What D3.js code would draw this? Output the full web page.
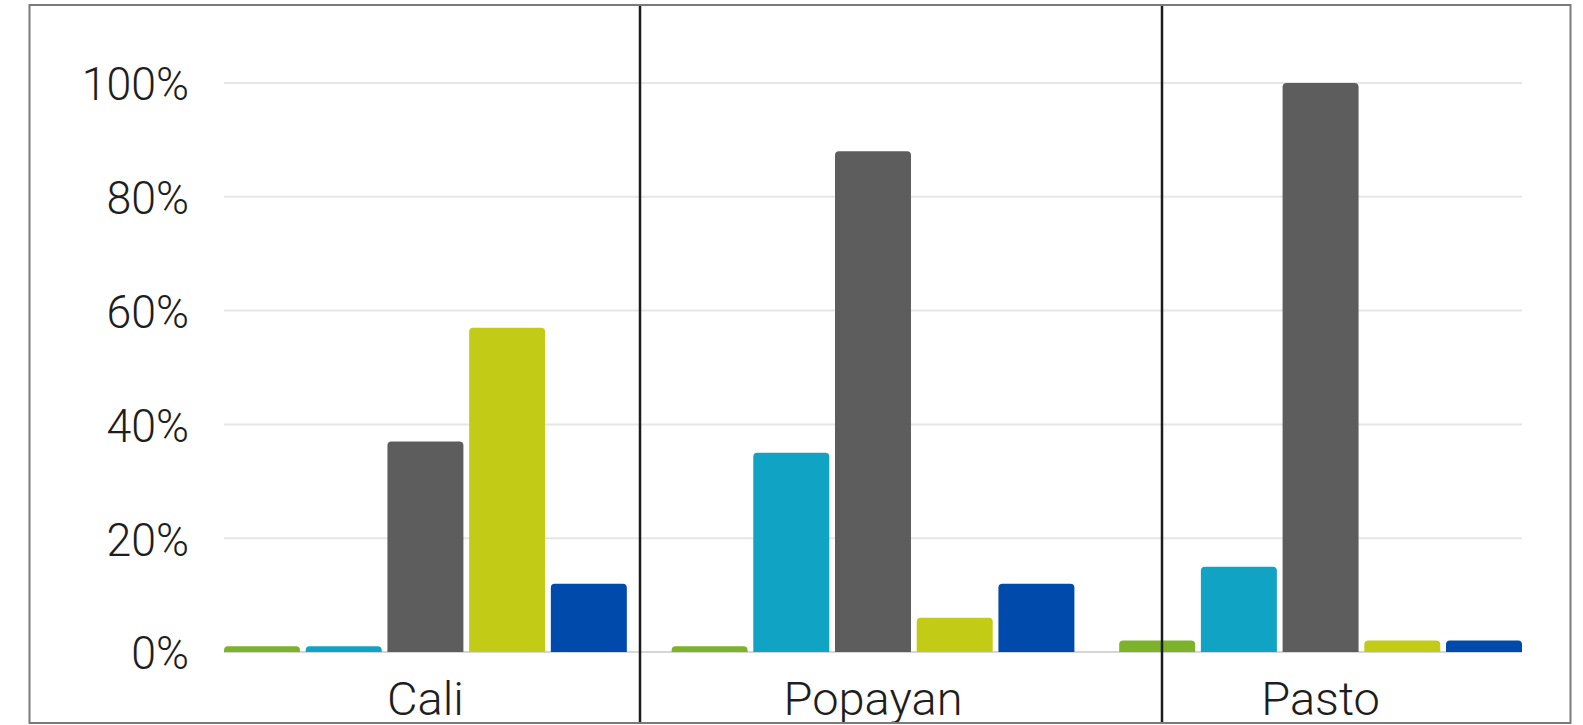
<!DOCTYPE html>
<html>
<head>
<meta charset="utf-8">
<script src="https://cdn.jsdelivr.net/npm/d3@7"></script>
<style>
  html, body { margin: 0; padding: 0; background: #fff; }
  svg text { font-family: Roboto, "Noto Sans", sans-serif; font-weight: 300; fill: #1e1e1e; }
</style>
</head>
<body>
<svg width="1583" height="725"></svg>
<script>
// data
var cities = ["Cali", "Popayan", "Pasto"];
var seriesKeys = ["s1", "s2", "s3", "s4", "s5"];
var seriesColors = ["#7cb32a", "#11a3c4", "#5d5d5d", "#c2cc16", "#004aab"];
var caliValues = [1, 1, 37, 57, 12];
var popayanValues = [1, 35, 88, 6, 12];
var pastoValues = [2, 15, 100, 2, 2];
var yTicks = [0, 20, 40, 60, 80, 100];

var rows = [caliValues, popayanValues, pastoValues].map(function(vals, i) {
  return { city: cities[i], values: vals };
});

var svg = d3.select("svg"),
    width = +svg.attr("width"),
    height = +svg.attr("height");

var plotLeft = 224, plotRight = 1522, plotTop = 83, plotBottom = 652;

var x0 = d3.scaleBand()
    .domain(cities)
    .range([plotLeft, plotRight])
    .paddingInner(0.1)
    .paddingOuter(0);

var x1 = d3.scaleBand()
    .domain(seriesKeys)
    .range([0, x0.bandwidth()])
    .paddingInner(0.07);

var y = d3.scaleLinear()
    .domain([0, 100])
    .range([plotBottom, plotTop]);

var color = d3.scaleOrdinal().domain(seriesKeys).range(seriesColors);

// gridlines
svg.append("g")
  .selectAll("line")
  .data(yTicks)
  .enter().append("line")
    .attr("x1", plotLeft)
    .attr("x2", plotRight)
    .attr("y1", function(d) { return y(d); })
    .attr("y2", function(d) { return y(d); })
    .attr("stroke", function(d) { return d === 0 ? "#d6d6d6" : "#e6e6e6"; })
    .attr("stroke-width", 2);

// y axis labels
var yAxis = d3.axisLeft(y)
    .tickValues(yTicks)
    .tickSize(0)
    .tickPadding(0)
    .tickFormat(function(d) { return d + "%"; });

var gy = svg.append("g")
    .attr("transform", "translate(189,0)")
    .call(yAxis);
gy.select(".domain").remove();
gy.selectAll("text")
    .attr("font-size", 47)
    .attr("dy", "0.36em")
    .attr("transform", "scale(0.95,1)")
    .attr("fill", "#1e1e1e")
    .style("font-family", "Roboto, sans-serif")
    .style("font-weight", 300);

// bar with rounded top corners
function barPath(x, yTop, w, h) {
  var r = Math.min(4, h, w / 2);
  return "M" + x + "," + (yTop + h) +
    "V" + (yTop + r) +
    "Q" + x + "," + yTop + " " + (x + r) + "," + yTop +
    "H" + (x + w - r) +
    "Q" + (x + w) + "," + yTop + " " + (x + w) + "," + (yTop + r) +
    "V" + (yTop + h) + "Z";
}

var groups = svg.append("g")
  .selectAll("g")
  .data(rows)
  .enter().append("g")
    .attr("transform", function(d) { return "translate(" + x0(d.city) + ",0)"; });

groups.selectAll("path")
  .data(function(d) { return d.values.map(function(v, i) { return { key: seriesKeys[i], value: v }; }); })
  .enter().append("path")
    .attr("d", function(d) {
      return barPath(x1(d.key), y(d.value), x1.bandwidth(), plotBottom - y(d.value));
    })
    .attr("fill", function(d) { return color(d.key); });

// category labels
var xAxis = d3.axisBottom(x0).tickSize(0).tickPadding(0);
var gx = svg.append("g")
    .attr("transform", "translate(0,715)")
    .call(xAxis);
gx.select(".domain").remove();
gx.selectAll("text")
    .attr("y", 0)
    .attr("dy", 0)
    .attr("font-size", 47)
    .attr("fill", "#1e1e1e")
    .style("font-family", "Roboto, sans-serif")
    .style("font-weight", 300);

// divider lines between the cities
var dividers = [640, 1162];
svg.append("g")
  .selectAll("line")
  .data(dividers)
  .enter().append("line")
    .attr("x1", function(d) { return d; })
    .attr("x2", function(d) { return d; })
    .attr("y1", 5)
    .attr("y2", 723)
    .attr("stroke", "#1c1c1c")
    .attr("stroke-width", 2.5);

// outer frame
svg.append("rect")
    .attr("x", 29.5)
    .attr("y", 5)
    .attr("width", 1541)
    .attr("height", 718)
    .attr("fill", "none")
    .attr("stroke", "#7a7a7a")
    .attr("stroke-width", 2);
</script>
</body>
</html>
